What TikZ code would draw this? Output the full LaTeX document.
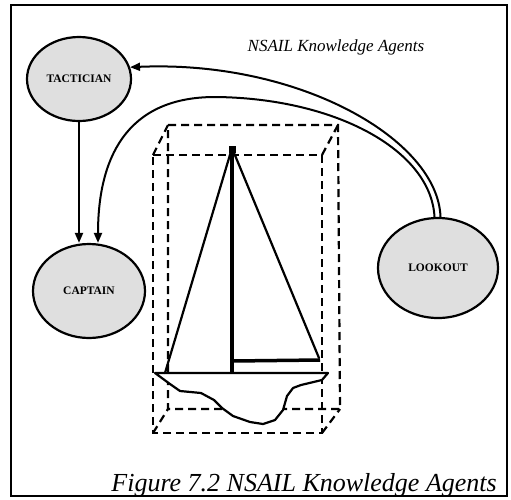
\documentclass[tikz,border=0pt]{standalone}
\usepackage{fontspec}
\setmainfont{Liberation Serif}
\usetikzlibrary{shapes.geometric,arrows.meta,patterns}
\begin{document}
\begin{tikzpicture}[x=1pt,y=-1pt,
  agent/.style={ellipse,draw,line width=2.2pt,fill=gray!25,inner sep=0pt,
    font=\fontsize{11.5}{12}\selectfont\bfseries},
  link/.style={line width=2pt},
  arr/.style={link,-{Triangle[length=10pt,width=8pt]}},
  wire/.style={line width=2.2pt,dash pattern=on 8pt off 5pt},
  rig/.style={line width=2.2pt,line cap=round},
  spar/.style={line width=3.5pt}]
\useasboundingbox (0,0) rectangle (511,499);
% frame
\draw[line width=2pt] (11,5) rectangle (507,496);

% agents
\node[agent,minimum width=104pt,minimum height=84pt] (tac) at (79,79) {TACTICIAN};
\node[agent,minimum width=112pt,minimum height=94pt] (cap) at (89,291) {CAPTAIN};
\node[agent,minimum width=120pt,minimum height=100pt] (look) at (438,268) {LOOKOUT};

% title
\node[anchor=base,inner sep=0pt,font=\fontsize{17}{20}\selectfont\itshape] (title) at (336,51) {NSAIL Knowledge Agents};

% wireframe box round the boat
\coordinate (fa) at (153,155); \coordinate (fb) at (322,155);
\coordinate (fc) at (322,433); \coordinate (fd) at (153,433);
\coordinate (ba) at (168,125); \coordinate (bb) at (338,125);
\coordinate (bc) at (340,409); \coordinate (bd) at (168,409);
\draw[wire] (ba) -- (bb) -- (bc) -- (bd) -- cycle;
\draw[wire] (fa) -- (fb) -- (fc) -- (fd) -- cycle;
\draw[wire] (fa) -- (ba) (fb) -- (bb) (fc) -- (bc) (fd) -- (bd);

% hull
\coordinate (bow) at (155,373);
\coordinate (stern) at (328,373);
\draw[rig,line join=round,fill=white] (bow) -- (170,384) -- (180,391) -- (201,393) -- (214,400)
  -- (222,408) -- (233,416) -- (250,422) -- (263,424) -- (275,420) -- (283,410)
  -- (287,396) -- (293,388) -- (301,385) -- (322,380) -- (stern) -- cycle;

% sails, mast and boom
\coordinate (top) at (232,148);
\coordinate (step0) at (232,373);
\coordinate (boomend) at (320,360);
\draw[rig] (top) -- (165,373);
\draw[rig] (top) -- (319,358);
\draw[spar] (top) -- (step0);
\draw[spar] (232,361) -- (boomend);
\fill (top) ++(-3.5,-2) rectangle ++(7,7);

% connectors
\draw[arr] (tac.south) -- (tac.south |- cap.north);
\draw[arr] ([xshift=2.5pt]look.north) .. controls (438,140) and (300,60) .. (tac.13);
\draw[arr] ([xshift=-3.5pt]look.north) .. controls (431,150) and (335,98) .. (215,97)
  .. controls (125,97) and (98,160) .. ([xshift=9pt]cap.north);

% caption
\node[anchor=base east,inner sep=0pt,font=\fontsize{26}{30}\selectfont\itshape] (caption) at (497,491) {Figure 7.2 NSAIL Knowledge Agents};
\end{tikzpicture}
\end{document}
